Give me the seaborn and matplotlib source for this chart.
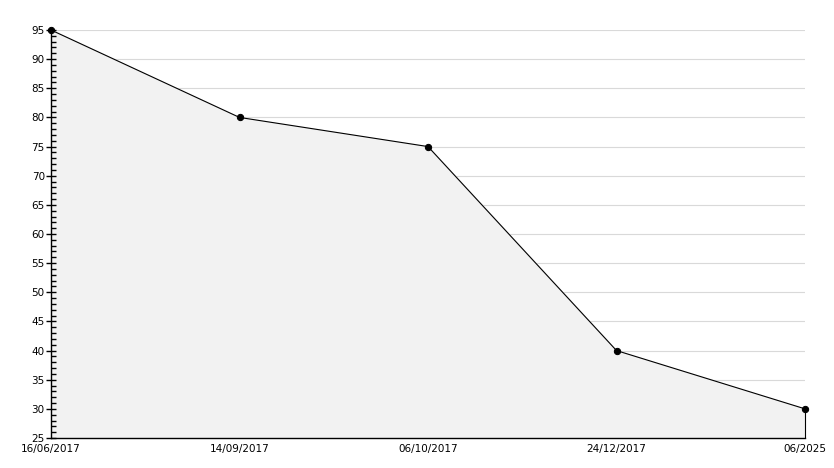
import matplotlib
matplotlib.use("Agg")
import matplotlib.pyplot as plt
import seaborn as sns
import numpy as np
import pandas as pd
from matplotlib.ticker import MultipleLocator

dates = ["16/06/2017", "14/09/2017", "06/10/2017", "24/12/2017", "06/2025"]
values = [95, 80, 75, 40, 30]

df = pd.DataFrame({"pos": np.arange(len(dates)), "value": values})

sns.set_style("ticks", {"xtick.color": "black", "ytick.color": "black", "text.color": "black"})
plt.rcParams['font.family'] = ['DejaVu Sans']

fig = plt.figure(figsize=(8.34, 4.68), dpi=100)
ax = fig.add_axes([51/834, 30/468, (805-51)/834, (438-30)/468])
ax.set_axisbelow(False)  # ticks drawn over the filled area

# grid behind the filled area
for y in range(25, 100, 5):
    ax.axhline(y, color="#d9d9d9", linewidth=0.8, zorder=0)

ax.fill_between(df["pos"], df["value"], 25, color="#f2f2f2", zorder=1)
sns.lineplot(data=df, x="pos", y="value", ax=ax, color="black", linewidth=0.8,
             marker="o", markersize=4.5, markeredgecolor="black", zorder=4, clip_on=False)
ax.vlines(df["pos"].iloc[-1], 25, df["value"].iloc[-1], color="black", linewidth=0.8,
          zorder=4, clip_on=False)

ax.set_xlim(0, len(dates) - 1)
ax.set_ylim(25, 95)
ax.set_xticks(df["pos"])
ax.set_xticklabels(dates)
ax.yaxis.set_major_locator(MultipleLocator(5))
ax.yaxis.set_minor_locator(MultipleLocator(1))
ax.tick_params(axis="y", which="major", direction="inout", length=7, width=1,
               labelsize=7.5, pad=1, left=True, colors="black")
ax.tick_params(axis="y", which="minor", direction="in", length=3.5, width=1, left=True,
               color="black")
ax.tick_params(axis="x", which="both", length=0, labelsize=7.5, pad=4, colors="black")
ax.set_xlabel("")
ax.set_ylabel("")
for s in ["top", "right"]:
    ax.spines[s].set_visible(False)
for s in ["left", "bottom"]:
    ax.spines[s].set_color("black")
    ax.spines[s].set_linewidth(1)

fig.savefig("out.png", dpi=100)
